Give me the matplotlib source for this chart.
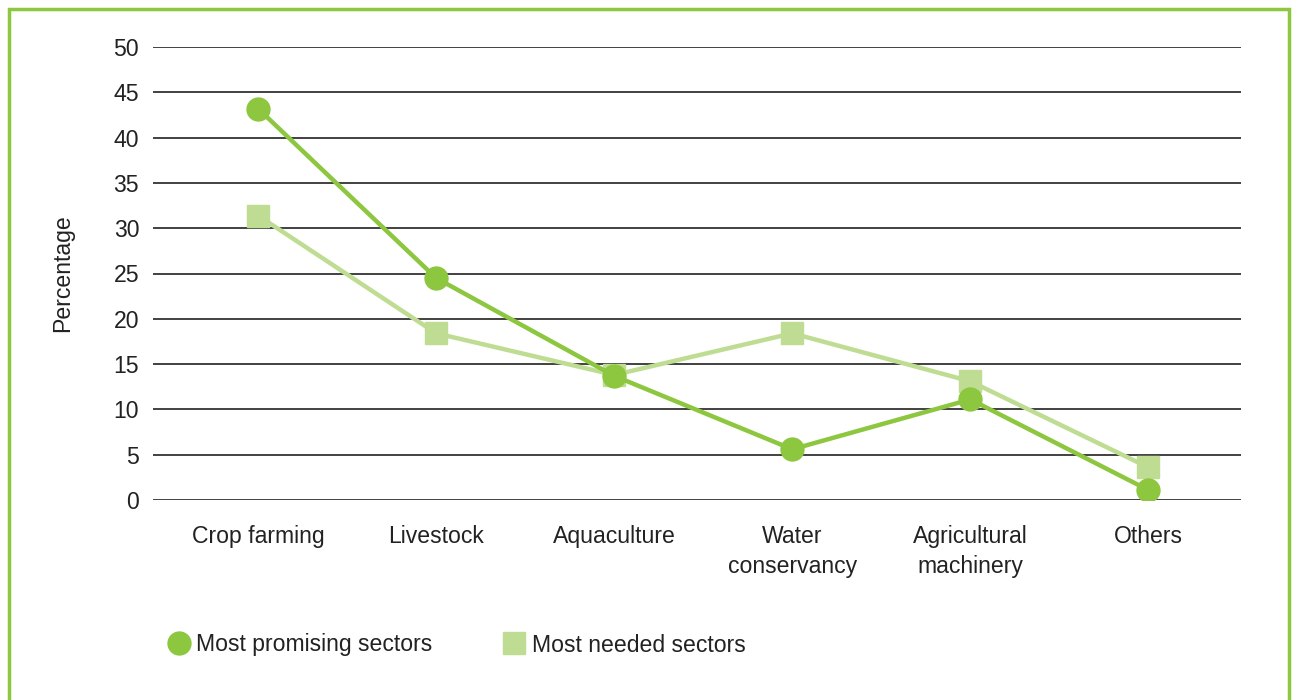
import matplotlib.pyplot as plt
from matplotlib.lines import Line2D
from matplotlib.patches import Rectangle

categories = ["Crop farming", "Livestock", "Aquaculture", "Water\nconservancy", "Agricultural\nmachinery", "Others"]
promising = [43.2, 24.5, 13.7, 5.6, 11.1, 1.1]
needed = [31.4, 18.4, 13.8, 18.4, 13.1, 3.6]
yticks = [0, 5, 10, 15, 20, 25, 30, 35, 40, 45, 50]

dark_green = "#8DC63F"
light_green = "#BEDD93"
fs = 16.6

plt.rcParams['font.family'] = ['Liberation Sans', 'DejaVu Sans']

fig = plt.figure(figsize=(12.95, 7.0), dpi=100)
ax = fig.add_axes([153/1295, 1 - 500/700, (1241-153)/1295, (500-47)/700])

x = list(range(len(categories)))
ax.plot(x, needed, color=light_green, lw=3.2, marker='s', markersize=15.5, zorder=3)
ax.plot(x, promising, color=dark_green, lw=3.2, marker='o', markersize=16.5, zorder=4)

ax.set_ylim(0, 50)
ax.set_xlim(-0.59, 5.52)
ax.set_yticks(yticks)
ax.set_xticks(x)
ax.set_xticklabels(categories, fontsize=fs, color='#222222', linespacing=1.4)
ax.tick_params(axis='y', labelsize=fs, labelcolor='#222222', length=0, pad=10)
ax.tick_params(axis='x', length=0, pad=18)
ax.yaxis.grid(True, color='#333333', lw=1.3)
ax.set_axisbelow(True)
for s in ax.spines.values():
    s.set_visible(False)
ax.set_ylabel("Percentage", fontsize=fs, color='#222222', labelpad=28)

# green border frame
fig.patches.append(Rectangle((9/1295, -0.02), (1289-9)/1295, 1 - 9/700 + 0.02,
                             transform=fig.transFigure, fill=False,
                             edgecolor=dark_green, lw=2.5))

handles = [
    Line2D([], [], color=dark_green, marker='o', markersize=16.5, lw=0),
    Line2D([], [], color=light_green, marker='s', markersize=15.5, lw=0),
]
fig.legend(handles, ["Most promising sectors", "Most needed sectors"],
           loc='center left', bbox_to_anchor=(149/1295, 1 - 645/700),
           ncol=2, frameon=False, fontsize=fs, handlelength=0.8,
           handletextpad=0.35, columnspacing=3.15, labelcolor='#222222')

fig.savefig("out.png", dpi=100)
